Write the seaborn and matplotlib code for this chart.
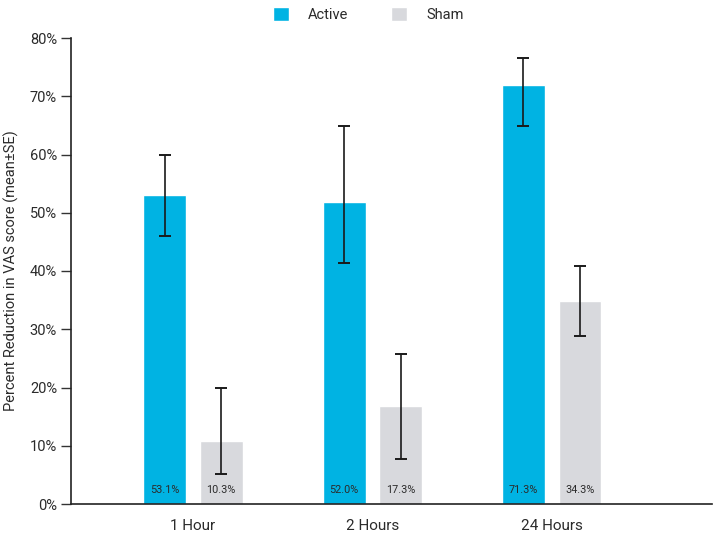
import pandas as pd
import matplotlib.pyplot as plt
import matplotlib.ticker as mtick
from matplotlib.patches import Patch
import seaborn as sns

# Data
timepoints = ['1 Hour', '2 Hours', '24 Hours']
groups = ['Active', 'Sham']
active_mean = [53.0, 51.8, 71.9]
sham_mean = [10.9, 16.8, 34.9]
active_err_low = [7.0, 10.4, 7.0]
active_err_high = [6.9, 13.1, 4.7]
sham_err_low = [5.7, 9.0, 6.1]
sham_err_high = [9.0, 9.0, 6.0]
active_labels = ['53.1%', '52.0%', '71.3%']
sham_labels = ['10.3%', '17.3%', '34.3%']

df = pd.DataFrame({
    'time': timepoints * 2,
    'group': ['Active'] * 3 + ['Sham'] * 3,
    'value': active_mean + sham_mean,
})

colors = {'Active': '#00b3e3', 'Sham': '#d8d9dd'}
text_color = '#2b2b2b'

sns.set_style('white')
plt.rcParams['font.family'] = ['Roboto', 'DejaVu Sans']

fig = plt.figure(figsize=(7.14, 5.36), dpi=100)
ax = fig.add_axes([71 / 714, 32 / 536, 641 / 714, 466 / 536])

sns.barplot(data=df, x='time', y='value', hue='group', order=timepoints,
            hue_order=groups, palette=colors, width=0.63, gap=0.24,
            saturation=1, errorbar=None, legend=False, ax=ax)

errs_low = [active_err_low, sham_err_low]
errs_high = [active_err_high, sham_err_high]
labels = [active_labels, sham_labels]
bar_containers = list(ax.containers)
for i, container in enumerate(bar_containers):
    for j, bar in enumerate(container.patches):
        cx = bar.get_x() + bar.get_width() / 2
        h = bar.get_height()
        ax.errorbar(cx, h, yerr=[[errs_low[i][j]], [errs_high[i][j]]],
                    fmt='none', ecolor='#1a1a1a', elinewidth=1.2,
                    capsize=4.5, capthick=1.4)
        ax.text(cx, 1.6, labels[i][j], ha='center', va='bottom',
                fontsize=7.8, color=text_color)

ax.set_ylim(0, 80)
ax.set_xlim(-0.679, 2.893)
ax.yaxis.set_major_locator(mtick.MultipleLocator(10))
ax.yaxis.set_major_formatter(mtick.PercentFormatter(decimals=0))
ax.tick_params(axis='y', left=True, length=7, width=1, color='#333333',
               labelsize=10.5, labelcolor=text_color, pad=3)
ax.tick_params(axis='x', bottom=False, labelsize=11, labelcolor=text_color, pad=7)
ax.set_xlabel('')
ax.set_ylabel('Percent Reduction in VAS score (mean±SE)', fontsize=10.5,
              color=text_color, labelpad=8)

sns.despine(ax=ax)
for side in ['left', 'bottom']:
    ax.spines[side].set_color('#222222')
    ax.spines[side].set_linewidth(1.2)

handles = [Patch(facecolor=colors[g], label=g) for g in groups]
fig.legend(handles=handles, loc='upper center', bbox_to_anchor=(0.516, 1.012),
           ncol=2, frameon=False, fontsize=10.5, handlelength=1.1,
           handleheight=1.1, columnspacing=2.9, handletextpad=1.3,
           labelcolor=text_color)

fig.savefig('out.png', dpi=100)
